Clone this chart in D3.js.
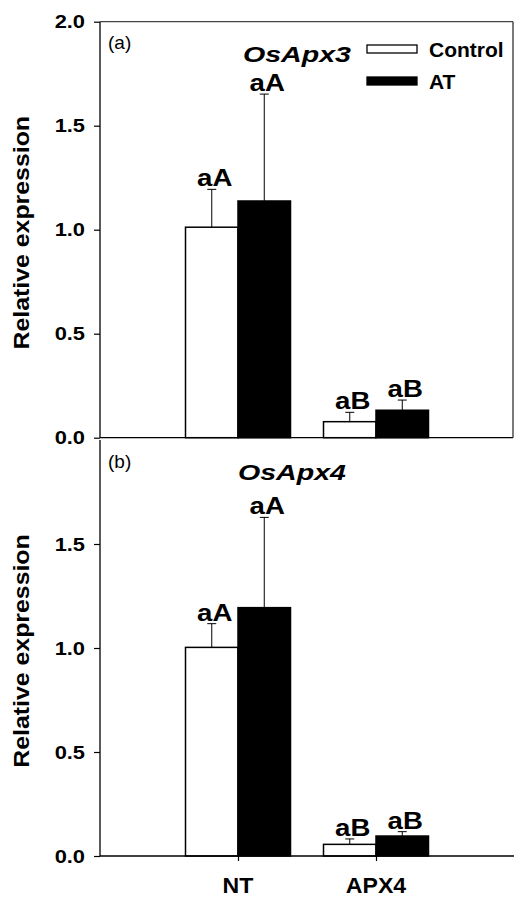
<!DOCTYPE html>
<html>
<head>
<meta charset="utf-8">
<script src="https://cdn.jsdelivr.net/npm/d3@7"></script>
<style>
  body { margin: 0; background: #fff; }
  svg { display: block; font-family: "Liberation Sans", Arial, sans-serif; }
</style>
</head>
<body>
<svg id="chart" width="514" height="899"></svg>
<script>
// ---- data ----
const categories = ["NT", "APX4"];
const seriesNames = ["Control", "AT"];
const yTicksA = [0, 0.5, 1.0, 1.5, 2.0];
const yTicksB = [0, 0.5, 1.0, 1.5];

// (a) OsApx3
const apx3Control = [1.012, 0.077];
const apx3ControlErr = [0.182, 0.045];
const apx3AT = [1.138, 0.132];
const apx3ATErr = [0.514, 0.049];
const apx3ControlLetters = ["aA", "aB"];
const apx3ATLetters = ["aA", "aB"];

// (b) OsApx4
const apx4Control = [1.003, 0.056];
const apx4ControlErr = [0.114, 0.026];
const apx4AT = [1.194, 0.096];
const apx4ATErr = [0.434, 0.021];
const apx4ControlLetters = ["aA", "aB"];
const apx4ATLetters = ["aA", "aB"];

const svg = d3.select("#chart");
const left = 100, right = 513;

// panels stacked; the (a) one has a full frame, the (b) one only two axes
const panels = [
  { tag: "(a)", gene: "OsApx3", top: 21.7, bottom: 437.7, titleX: 297, ticks: yTicksA, frame: true, xLabels: false,
    series: [
      { name: "Control", vals: apx3Control, err: apx3ControlErr, letters: apx3ControlLetters },
      { name: "AT", vals: apx3AT, err: apx3ATErr, letters: apx3ATLetters }
    ] },
  { tag: "(b)", gene: "OsApx4", top: 440, bottom: 856, titleX: 292, ticks: yTicksB, frame: false, xLabels: true,
    series: [
      { name: "Control", vals: apx4Control, err: apx4ControlErr, letters: apx4ControlLetters },
      { name: "AT", vals: apx4AT, err: apx4ATErr, letters: apx4ATLetters }
    ] }
];

const fill = { Control: "#fff", AT: "#000" };

const x = d3.scalePoint().domain(categories).range([left, 514]).padding(1);
const sub = d3.scaleBand().domain(seriesNames).range([-52.5, 52.5]);

// horizontal stretch helper (the source figure's lettering is a bit wide)
function put(sel, px, py, sx, rot) {
  sel.attr("x", 0).attr("y", 0)
    .attr("transform", `translate(${px},${py})${rot ? ` rotate(${rot})` : ""} scale(${sx},1)`);
  return sel;
}

panels.forEach(p => {
  const y = d3.scaleLinear().domain([0, 2]).range([p.bottom, p.top]);
  const g = svg.append("g");

  // bars
  p.series.forEach(s => {
    g.selectAll(null).data(categories).enter().append("rect")
      .attr("x", (c) => x(c) + sub(s.name))
      .attr("y", (c, i) => y(s.vals[i]))
      .attr("width", sub.bandwidth())
      .attr("height", (c, i) => y(0) - y(s.vals[i]))
      .attr("fill", fill[s.name])
      .attr("stroke", "#000")
      .attr("stroke-width", 1.5);

    // upper error bars
    const cx = c => x(c) + sub(s.name) + sub.bandwidth() / 2;
    g.selectAll(null).data(categories).enter().append("line")
      .attr("x1", cx).attr("x2", cx)
      .attr("y1", (c, i) => y(s.vals[i]))
      .attr("y2", (c, i) => y(s.vals[i] + s.err[i]))
      .attr("stroke", "#000").attr("stroke-width", 1);
    g.selectAll(null).data(categories).enter().append("line")
      .attr("x1", c => cx(c) - 4.5).attr("x2", c => cx(c) + 4.5)
      .attr("y1", (c, i) => y(s.vals[i] + s.err[i]))
      .attr("y2", (c, i) => y(s.vals[i] + s.err[i]))
      .attr("stroke", "#000").attr("stroke-width", 1);

    // significance letters
    categories.forEach((c, i) => {
      put(g.append("text"), cx(c) + 3, y(s.vals[i] + s.err[i]) - 3, 1.2)
        .attr("text-anchor", "middle")
        .attr("font-size", 23).attr("font-weight", "bold")
        .text(s.letters[i]);
    });
  });

  // y axis
  const yAxis = d3.axisLeft(y).tickValues(p.ticks).tickSize(6).tickFormat(d3.format(".1f"));
  const ya = g.append("g").attr("transform", `translate(${left},0)`).call(yAxis);
  ya.select(".domain").remove();
  ya.selectAll(".tick line").attr("stroke-width", 1.2);
  ya.selectAll(".tick text")
    .attr("font-size", 19).attr("font-weight", "bold")
    .attr("font-family", "Liberation Sans, Arial, sans-serif")
    .attr("fill", "#000")
    .attr("x", -15 / 1.15)
    .attr("transform", "scale(1.15,1)");

  g.append("line").attr("x1", left).attr("x2", left).attr("y1", p.top).attr("y2", p.bottom)
    .attr("stroke", "#000").attr("stroke-width", 1.3);
  g.append("line").attr("x1", left).attr("x2", p.frame ? right : 514).attr("y1", p.bottom).attr("y2", p.bottom)
    .attr("stroke", "#000").attr("stroke-width", 1.3);
  if (p.frame) {
    g.append("line").attr("x1", left).attr("x2", right).attr("y1", p.top).attr("y2", p.top)
      .attr("stroke", "#444").attr("stroke-width", 1.2);
    g.append("line").attr("x1", right).attr("x2", right).attr("y1", p.top).attr("y2", p.bottom)
      .attr("stroke", "#222").attr("stroke-width", 1.2);
  }

  // x axis ticks and labels on the lower panel only
  if (p.xLabels) {
    const xa = g.append("g").attr("transform", `translate(0,${p.bottom})`)
      .call(d3.axisBottom(x).tickSize(5).tickFormat(""));
    xa.select(".domain").remove();
    xa.selectAll(".tick line").attr("stroke-width", 1.2);
    categories.forEach(c => {
      put(g.append("text"), x(c), 893, 1.05)
        .attr("text-anchor", "middle")
        .attr("font-size", 22).attr("font-weight", "bold")
        .text(c);
    });
  }

  // axis title
  put(g.append("text"), 29, (p.top + p.bottom) / 2 + 3, 1.13, -90)
    .attr("text-anchor", "middle")
    .attr("font-size", 22).attr("font-weight", "bold")
    .text("Relative expression");

  // panel tag and gene name
  g.append("text").attr("x", 108).attr("y", p.top + 27.5)
    .attr("font-size", 19)
    .text(p.tag);
  put(g.append("text"), p.titleX, p.top + 40, 1.3)
    .attr("text-anchor", "middle")
    .attr("font-size", 22).attr("font-weight", "bold").attr("font-style", "italic")
    .text(p.gene);
});

// legend inside panel (a)
const legend = svg.append("g").attr("transform", "translate(367,45)");
seriesNames.forEach((n, i) => {
  legend.append("rect")
    .attr("x", 0).attr("y", i * 32)
    .attr("width", 50).attr("height", 8)
    .attr("fill", fill[n]).attr("stroke", "#000").attr("stroke-width", 1.3);
  legend.append("text")
    .attr("x", 62).attr("y", i * 32 + 12)
    .attr("font-size", 21).attr("font-weight", "bold")
    .text(n);
});
</script>
</body>
</html>
